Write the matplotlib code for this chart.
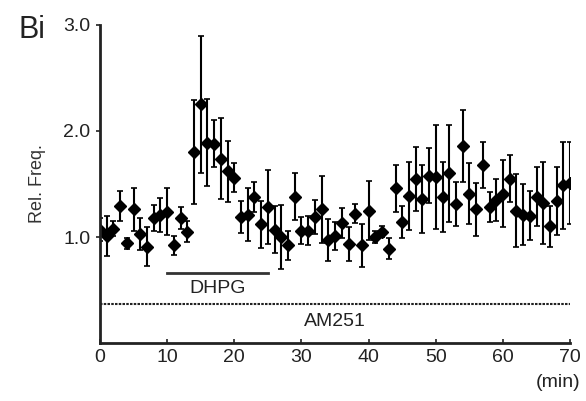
import numpy as np
import matplotlib.pyplot as plt

plt.rcParams['font.family'] = ['Liberation Sans', 'DejaVu Sans']

# time (min) and relative frequency, mean +/- error
time = np.arange(0, 71)
rel_freq = [1.07, 1.01, 1.08, 1.29, 0.94, 1.26, 1.03, 0.91, 1.18, 1.21,
            1.24, 0.92, 1.18, 1.05, 1.80, 2.25, 1.89, 1.88, 1.74, 1.62,
            1.56, 1.19, 1.21, 1.38, 1.12, 1.28, 1.07, 1.00, 0.92, 1.38,
            1.06, 1.06, 1.19, 1.26, 0.97, 1.01, 1.13, 0.93, 1.22, 0.92,
            1.25, 1.00, 1.05, 0.89, 1.46, 1.14, 1.39, 1.55, 1.36, 1.58,
            1.57, 1.38, 1.60, 1.31, 1.86, 1.41, 1.26, 1.68, 1.28, 1.35,
            1.41, 1.55, 1.25, 1.21, 1.20, 1.38, 1.32, 1.10, 1.34, 1.49,
            1.51]
err = [0.11, 0.19, 0.07, 0.14, 0.05, 0.20, 0.15, 0.18, 0.12, 0.16,
       0.22, 0.09, 0.10, 0.10, 0.49, 0.65, 0.41, 0.22, 0.38, 0.29,
       0.14, 0.15, 0.25, 0.14, 0.22, 0.35, 0.22, 0.30, 0.14, 0.22,
       0.13, 0.14, 0.16, 0.32, 0.20, 0.13, 0.14, 0.16, 0.09, 0.20,
       0.28, 0.06, 0.05, 0.10, 0.22, 0.15, 0.32, 0.30, 0.32, 0.26,
       0.49, 0.33, 0.46, 0.21, 0.34, 0.29, 0.25, 0.22, 0.14, 0.20,
       0.32, 0.22, 0.34, 0.29, 0.23, 0.28, 0.39, 0.19, 0.32, 0.41,
       0.39]

# drug application periods
dhpg_start, dhpg_end, dhpg_level = 10, 25, 0.66
am251_start, am251_end, am251_level = 0, 70, 0.37

fig = plt.figure(figsize=(5.86, 4.01), dpi=100)
ax = fig.add_axes([0.1706, 0.1446, 0.8024, 0.7931])

ax.errorbar(time, rel_freq, yerr=err, fmt='D', color='black', ms=6.3,
            elinewidth=1.5, capsize=2, capthick=1.2)

ax.plot([dhpg_start, dhpg_end], [dhpg_level, dhpg_level], color='#333333', lw=2)
ax.text((dhpg_start + dhpg_end) / 2, dhpg_level - 0.07, 'DHPG',
        ha='center', va='top', fontsize=14, color='#222222')
ax.plot([am251_start, am251_end], [am251_level, am251_level], color='#222222',
        lw=1.5, ls=(0, (1.2, 0.6)))
ax.text(35, am251_level - 0.09, 'AM251', ha='center', va='top',
        fontsize=14, color='#222222')

ax.set_xlim(0, 70)
ax.set_ylim(0, 3.0)
ax.set_xticks(np.arange(0, 71, 10))
ax.set_yticks([1.0, 2.0, 3.0])
ax.set_yticklabels(['1.0', '2.0', '3.0'])

for side in ['top', 'right']:
    ax.spines[side].set_visible(False)
for side in ['left', 'bottom']:
    ax.spines[side].set_linewidth(2)
    ax.spines[side].set_color('#222222')

ax.tick_params(axis='x', direction='in', length=3, width=1.2, labelsize=14,
               pad=4, colors='#222222')
ax.tick_params(axis='y', direction='out', length=3, width=1.2, labelsize=14,
               pad=4, colors='#222222')

ax.set_ylabel('Rel. Freq.', fontsize=13, color='#333333', labelpad=12)
fig.text(0.99, 0.045, '(min)', ha='right', va='center', fontsize=14,
         color='#222222')
fig.text(0.032, 0.925, 'Bi', ha='left', va='center', fontsize=22,
         color='#222222')

fig.savefig('out.png', dpi=100)
